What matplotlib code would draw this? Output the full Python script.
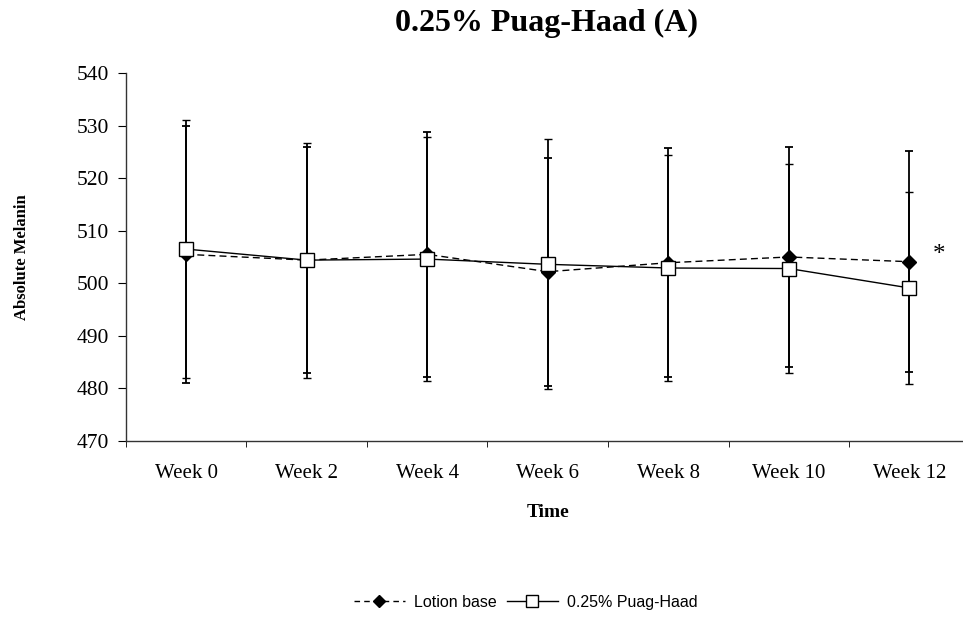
import matplotlib
matplotlib.use("Agg")
import matplotlib.pyplot as plt
from matplotlib.lines import Line2D
import numpy as np

weeks = ["Week 0", "Week 2", "Week 4", "Week 6", "Week 8", "Week 10", "Week 12"]
lotion = [505.5, 504.4, 505.5, 502.2, 503.9, 505.0, 504.1]
lotion_sd = [24.5, 21.5, 23.4, 21.7, 21.8, 20.9, 21.0]
puag = [506.5, 504.4, 504.6, 503.6, 502.9, 502.8, 499.1]
puag_sd = [24.6, 22.4, 23.2, 23.8, 21.6, 19.9, 18.3]

plt.rcParams['font.family'] = ['Liberation Serif', 'DejaVu Serif']

fig = plt.figure(figsize=(9.63, 6.26), dpi=100)
ax = fig.add_axes([0.1308, 0.296, 0.876, 0.587])

x = np.arange(len(weeks))

ax.errorbar(x, lotion, yerr=lotion_sd, color='black', linestyle=(0, (5, 3)),
            linewidth=1.0, marker='D', markersize=7.5, markerfacecolor='black',
            markeredgecolor='black', ecolor='black', elinewidth=1.3,
            capsize=2.8, capthick=1.3, zorder=2)
ax.errorbar(x, puag, yerr=puag_sd, color='black', linestyle='-',
            linewidth=1.0, marker='s', markersize=10.5, markerfacecolor='white',
            markeredgecolor='black', markeredgewidth=1.0, ecolor='black',
            elinewidth=1.3, capsize=2.8, capthick=1.3, zorder=3)

# significance mark next to week 12
ax.text(x[-1] + 0.25, lotion[-1] + 1.2, '*', fontsize=18, ha='center', va='center')

ax.set_xlim(-0.5, len(weeks) - 0.5)
ax.set_ylim(470, 540)
ax.set_yticks(np.arange(470, 541, 10))
ax.set_xticks(x)
ax.set_xticklabels(weeks)
ax.set_xticks(np.arange(-0.5, len(weeks), 1), minor=True)
ax.tick_params(axis='x', which='major', length=0, pad=17, labelsize=15)
ax.tick_params(axis='x', which='minor', length=4, direction='out')
ax.tick_params(axis='y', length=6, direction='out', labelsize=15.5, pad=6)

for s in ['top', 'right']:
    ax.spines[s].set_visible(False)
for s in ['left', 'bottom']:
    ax.spines[s].set_color('#333333')
    ax.spines[s].set_linewidth(1.0)

ax.set_xlabel("Time", fontsize=14, fontweight='bold', labelpad=15)
ax.set_ylabel("Absolute Melanin", fontsize=12, fontweight='bold', labelpad=34)

fig.text(0.567, 0.963, "0.25% Puag-Haad (A)", fontsize=23, fontweight='bold',
         ha='center', va='center')

handles = [
    Line2D([], [], color='black', linestyle=(0, (4, 3)), linewidth=1.0,
           marker='D', markersize=6, markerfacecolor='black'),
    Line2D([], [], color='black', linestyle='-', linewidth=1.0,
           marker='s', markersize=9, markerfacecolor='white'),
]
labels = ["Lotion base", "0.25% Puag-Haad"]
fig.legend(handles, labels, loc='center', bbox_to_anchor=(0.546, 0.038),
           ncol=2, frameon=False, handlelength=3.2, columnspacing=0.6,
           handletextpad=0.6, prop={'family': 'Liberation Sans', 'size': 11.5})

fig.savefig("out.png", dpi=100)
